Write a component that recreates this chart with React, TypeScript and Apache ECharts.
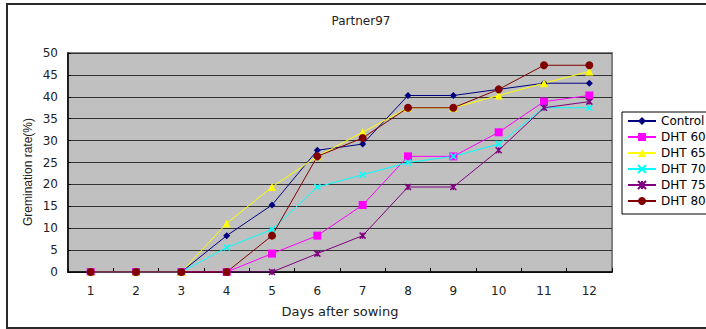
import React, { useEffect, useRef } from "react";
import * as echarts from "echarts";

// Germination rate (%) by days after sowing
const days = ["1", "2", "3", "4", "5", "6", "7", "8", "9", "10", "11", "12"];
const control = [0, 0, 0, 8.3, 15.3, 27.8, 29.2, 40.3, 40.3, 41.7, 43.1, 43.1];
const dht60 = [0, 0, 0, 0, 4.2, 8.3, 15.3, 26.4, 26.4, 31.9, 38.9, 40.3];
const dht65 = [0, 0, 0, 11.1, 19.4, 26.4, 31.9, 37.5, 37.5, 40.3, 43.1, 45.8];
const dht70 = [0, 0, 0, 5.6, 9.7, 19.4, 22.2, 25.0, 26.4, 29.2, 37.5, 37.5];
const dht75 = [0, 0, 0, 0, 0, 4.2, 8.3, 19.4, 19.4, 27.8, 37.5, 38.9];
const dht80 = [0, 0, 0, 0, 8.3, 26.4, 30.6, 37.5, 37.5, 41.7, 47.2, 47.2];
const yTicks = { min: 0, max: 50, interval: 5 };

const FONT = "DejaVu Sans";
const CROSS = "path://M0,0L10,10M10,0L0,10";
const STAR = "path://M0,0L10,10M10,0L0,10M5,0L5,10";

const seriesDefs = [
  { name: "Control", data: control, color: "#000080", symbol: "diamond", size: 7 },
  { name: "DHT 60", data: dht60, color: "#ff00ff", symbol: "rect", size: 8 },
  { name: "DHT 65", data: dht65, color: "#ffff00", symbol: "triangle", size: 8 },
  { name: "DHT 70", data: dht70, color: "#00ffff", symbol: CROSS, size: 6 },
  { name: "DHT 75", data: dht75, color: "#800080", symbol: STAR, size: 6 },
  { name: "DHT 80", data: dht80, color: "#800000", symbol: "circle", size: 8 },
];

export default function App() {
  const ref = useRef<HTMLDivElement>(null);

  useEffect(() => {
    if (!ref.current) return;
    const chart = echarts.init(ref.current, undefined, { renderer: "svg" });
    const isStroke = (s: string) => s.startsWith("path://");
    chart.setOption({
      animation: false,
      backgroundColor: "#ffffff",
      textStyle: { fontFamily: FONT },
      grid: {
        left: 68,
        top: 53,
        width: 544,
        height: 219,
        show: true,
        backgroundColor: "#c0c0c0",
        borderColor: "#808080",
        borderWidth: 2,
      },
      xAxis: {
        type: "category",
        data: days,
        boundaryGap: true,
        axisLine: { lineStyle: { color: "#000", width: 1.5 } },
        axisTick: { show: true, inside: true, length: 4, lineStyle: { color: "#000" } },
        axisLabel: { color: "#222", fontSize: 12, margin: 13, fontFamily: FONT },
      },
      yAxis: {
        type: "value",
        min: yTicks.min,
        max: yTicks.max,
        interval: yTicks.interval,
        axisLine: { show: true, lineStyle: { color: "#000", width: 1.5 } },
        axisTick: { show: true, inside: true, length: 3, lineStyle: { color: "#000" } },
        axisLabel: { color: "#222", fontSize: 12, margin: 10, fontFamily: FONT },
        splitLine: { show: true, lineStyle: { color: "#333", width: 1 } },
      },
      legend: {
        orient: "vertical",
        left: 627,
        top: 115,
        itemWidth: 28,
        itemHeight: 10,
        itemGap: 4,
        padding: 0,
        textStyle: { fontSize: 12, color: "#000", fontFamily: FONT },
        data: seriesDefs.map((s) => s.name),
      },
      graphic: [
        {
          type: "rect",
          shape: { x: 7, y: 4, width: 730, height: 324 },
          style: { fill: "none", stroke: "#2a2a2a", lineWidth: 2 },
          silent: true,
          z: -1,
        },
        {
          type: "rect",
          shape: { x: 622, y: 112, width: 120, height: 102 },
          style: { fill: "#ffffff", stroke: "#000", lineWidth: 1 },
          silent: true,
          z: -1,
        },
        {
          type: "text",
          x: 361,
          y: 21,
          style: {
            text: "Partner97",
            fontSize: 12,
            fontFamily: FONT,
            fill: "#222",
            align: "center",
            verticalAlign: "middle",
          },
        },
        {
          type: "text",
          x: 340,
          y: 311,
          style: {
            text: "Days after sowing",
            fontSize: 13,
            fontFamily: FONT,
            fill: "#222",
            align: "center",
            verticalAlign: "middle",
          },
        },
        {
          type: "text",
          x: 28,
          y: 172,
          rotation: Math.PI / 2,
          style: {
            text: "Gremination rate(%)",
            fontSize: 12,
            fontFamily: "Liberation Sans",
            fill: "#222",
            align: "center",
            verticalAlign: "middle",
          },
        },
      ],
      series: seriesDefs.map((s) => ({
        name: s.name,
        type: "line",
        data: s.data,
        symbol: s.symbol,
        symbolSize: s.size,
        showAllSymbol: true,
        lineStyle: { color: s.color, width: 1 },
        itemStyle: {
          color: s.color,
          borderColor: s.color,
          borderWidth: isStroke(s.symbol) ? 1.5 : 0,
        },
      })),
    });
    return () => chart.dispose();
  }, []);

  return (
    <div
      ref={ref}
      style={{ position: "absolute", left: 0, top: 0, width: 706, height: 329 }}
    />
  );
}
